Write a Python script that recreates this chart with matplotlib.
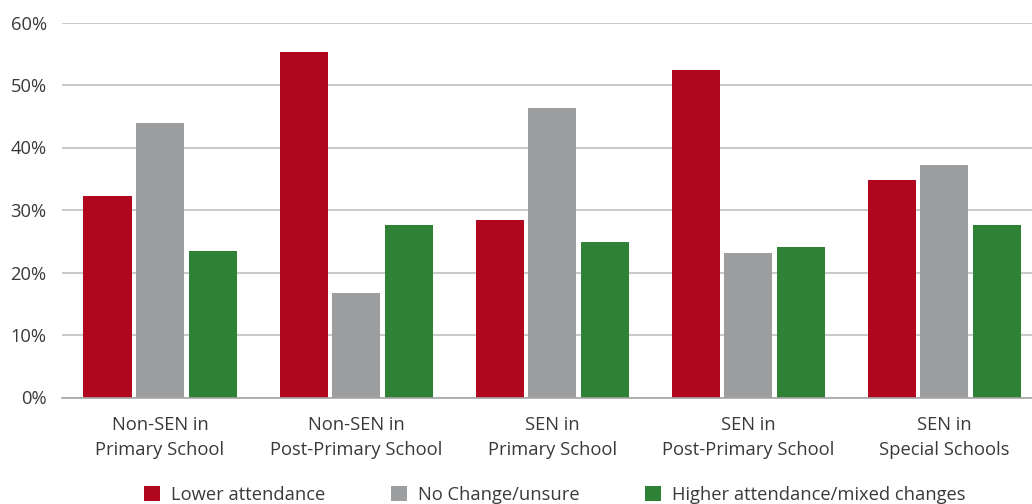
import matplotlib
matplotlib.use("Agg")
import matplotlib.pyplot as plt
import numpy as np

categories = ["Non-SEN in\nPrimary School", "Non-SEN in\nPost-Primary School",
              "SEN in\nPrimary School", "SEN in\nPost-Primary School",
              "SEN in\nSpecial Schools"]
series_names = ["Lower attendance", "No Change/unsure", "Higher attendance/mixed changes"]
lower = [32.2, 55.3, 28.4, 52.4, 34.8]
nochange = [43.9, 16.7, 46.3, 23.1, 37.2]
higher = [23.4, 27.6, 24.9, 24.1, 27.6]
yticks = [0, 10, 20, 30, 40, 50, 60]
ytick_labels = ["0%", "10%", "20%", "30%", "40%", "50%", "60%"]

colors = ["#B0071F", "#9D9EA0", "#2E8135"]
text_color = "#3A3A3A"

plt.rcParams['font.family'] = ['Open Sans', 'DejaVu Sans']

fig = plt.figure(figsize=(10.32, 5.04), dpi=100)
ax = fig.add_axes([62/1032, 106.5/504, 980.5/1032, 375/504])

x = np.arange(len(categories))
off = 0.268
w = 0.245
for i, (vals, c, name) in enumerate(zip([lower, nochange, higher], colors, series_names)):
    ax.bar(x + (i - 1) * off, vals, width=w, color=c, label=name, zorder=3)

ax.set_xlim(-0.5, len(categories) - 0.5)
ax.set_ylim(0, 60)
ax.set_yticks(yticks)
ax.set_yticklabels(ytick_labels)
ax.set_xticks(x)
ax.set_xticklabels(categories, linespacing=1.55)
ax.yaxis.grid(True, color="#C0C0C0", linewidth=1.2, zorder=0)
ax.set_axisbelow(True)
for s in ["top", "right", "left"]:
    ax.spines[s].set_visible(False)
ax.spines["bottom"].set_color("#A6A6A6")
ax.spines["bottom"].set_linewidth(1.2)
ax.spines["bottom"].set_zorder(4)
ax.tick_params(axis="both", length=0, labelsize=13.2, colors=text_color)
ax.tick_params(axis="x", pad=13)
ax.tick_params(axis="y", pad=11)

fig.legend(loc="center", bbox_to_anchor=(555/1032, 1 - 495/504), ncol=3,
           frameon=False, fontsize=13.2, handlelength=0.85, handleheight=0.85,
           handletextpad=0.6, columnspacing=3.6, labelcolor=text_color)

fig.savefig("out.png", dpi=100)
